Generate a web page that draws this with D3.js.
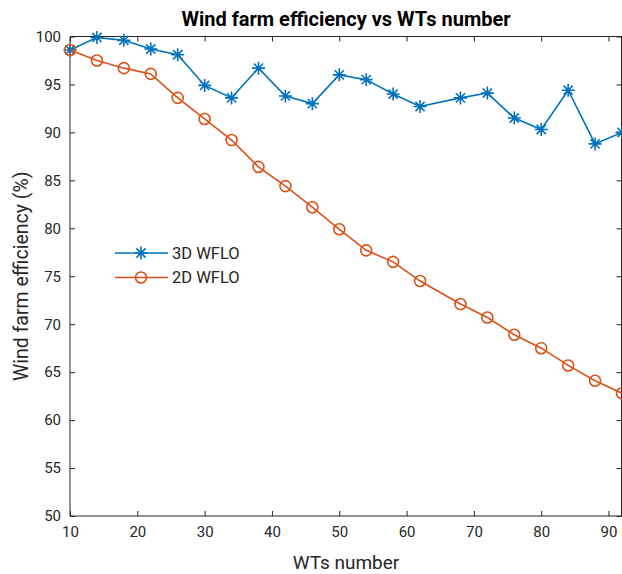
<!DOCTYPE html>
<html>
<head>
<meta charset="utf-8">
<script src="https://cdn.jsdelivr.net/npm/d3@7"></script>
<style>
  html, body { margin: 0; padding: 0; background: #fff; }
  svg { display: block; }
  text { font-family: "Roboto", "Liberation Sans", sans-serif; fill: #262626; }
</style>
</head>
<body>
<svg id="chart" width="622" height="574"></svg>
<script>
const wtsNumber = [10, 14, 18, 22, 26, 30, 34, 38, 42, 46, 50, 54, 58, 62, 68, 72, 76, 80, 84, 88, 92];
const eff3D = [98.6, 99.9, 99.6, 98.7, 98.1, 94.9, 93.6, 96.7, 93.8, 93.0, 96.0, 95.5, 94.0, 92.7, 93.6, 94.1, 91.5, 90.3, 94.4, 88.8, 90.0];
const eff2D = [98.6, 97.5, 96.7, 96.1, 93.6, 91.4, 89.2, 86.4, 84.4, 82.2, 79.9, 77.7, 76.5, 74.5, 72.1, 70.7, 68.9, 67.5, 65.7, 64.1, 62.8];
const xTicks = [10, 20, 30, 40, 50, 60, 70, 80, 90];
const yTicks = [50, 55, 60, 65, 70, 75, 80, 85, 90, 95, 100];
const seriesNames = ["3D WFLO", "2D WFLO"];
const seriesColors = ["#0072BD", "#D95319"];
const titleText = "Wind farm efficiency vs WTs number";
const xLabel = "WTs number";
const yLabel = "Wind farm efficiency (%)";

(function () {
const svg = d3.select("#chart");
const mL = 70, mR = 622, mT = 36.5, mB = 516;

const x = d3.scaleLinear().domain([10, 92]).range([mL, mR]);
const y = d3.scaleLinear().domain([50, 100]).range([mB, mT]);

const axisColor = "#262626";
const tickLen = 5;

// box lines
const g = svg.append("g");
g.append("line").attr("x1", mL).attr("x2", mR).attr("y1", mB).attr("y2", mB).attr("stroke", axisColor);
g.append("line").attr("x1", mL).attr("x2", mR).attr("y1", mT).attr("y2", mT).attr("stroke", axisColor);
g.append("line").attr("x1", mL).attr("x2", mL).attr("y1", mT).attr("y2", mB).attr("stroke", axisColor);
g.append("line").attr("x1", mR - 0.5).attr("x2", mR - 0.5).attr("y1", mT).attr("y2", mB).attr("stroke", axisColor);

// x axis (bottom), inward ticks
const xAxis = d3.axisBottom(x).tickValues(xTicks).tickSizeInner(-tickLen).tickSizeOuter(0).tickPadding(10);
const xg = svg.append("g").attr("transform", `translate(0,${mB})`).call(xAxis);
xg.select(".domain").remove();
xg.selectAll("line").attr("stroke", axisColor);
xg.selectAll("text").attr("font-size", 15).attr("fill", axisColor).attr("font-family", null);

// x top ticks
const xTop = d3.axisTop(x).tickValues(xTicks).tickSizeInner(-tickLen).tickSizeOuter(0).tickFormat("");
const xtg = svg.append("g").attr("transform", `translate(0,${mT})`).call(xTop);
xtg.select(".domain").remove();
xtg.selectAll("line").attr("stroke", axisColor);

// y axis left
const yAxis = d3.axisLeft(y).tickValues(yTicks).tickSizeInner(-tickLen).tickSizeOuter(0).tickPadding(9);
const yg = svg.append("g").attr("transform", `translate(${mL},0)`).call(yAxis);
yg.select(".domain").remove();
yg.selectAll("line").attr("stroke", axisColor);
yg.selectAll("text").attr("font-size", 15).attr("fill", axisColor).attr("font-family", null);

// y axis right ticks
const yRight = d3.axisRight(y).tickValues(yTicks).tickSizeInner(-tickLen).tickSizeOuter(0).tickFormat("");
const yrg = svg.append("g").attr("transform", `translate(${mR - 0.5},0)`).call(yRight);
yrg.select(".domain").remove();
yrg.selectAll("line").attr("stroke", axisColor);

// title and labels
svg.append("text").attr("x", (mL + mR) / 2).attr("y", 26).attr("text-anchor", "middle")
  .attr("font-size", 20).attr("font-weight", "bold").style("fill", "#000").text(titleText);
svg.append("text").attr("x", (mL + mR) / 2).attr("y", 569).attr("text-anchor", "middle")
  .attr("font-size", 19).text(xLabel);
svg.append("text").attr("transform", `translate(28,${(mT + mB) / 2}) rotate(-90)`).attr("text-anchor", "middle")
  .attr("font-size", 19.5).text(yLabel);

// markers
function asterisk(sel, cx, cy, color, r) {
  const d = r * Math.SQRT1_2;
  const p = `M${cx - r},${cy}L${cx + r},${cy}M${cx},${cy - r}L${cx},${cy + r}` +
            `M${cx - d},${cy - d}L${cx + d},${cy + d}M${cx - d},${cy + d}L${cx + d},${cy - d}`;
  sel.append("path").attr("d", p).attr("stroke", color).attr("stroke-width", 1.6).attr("fill", "none");
}
function circle(sel, cx, cy, color, r) {
  sel.append("circle").attr("cx", cx).attr("cy", cy).attr("r", r).attr("stroke", color)
    .attr("stroke-width", 1.6).attr("fill", "none");
}

const line = d3.line().x(d => x(d[0])).y(d => y(d[1]));
const data3 = wtsNumber.map((w, i) => [w, eff3D[i]]);
const data2 = wtsNumber.map((w, i) => [w, eff2D[i]]);

const plot = svg.append("g");
plot.append("path").datum(data3).attr("d", line).attr("fill", "none").attr("stroke", seriesColors[0]).attr("stroke-width", 1.6);
data3.forEach(d => asterisk(plot, x(d[0]), y(d[1]), seriesColors[0], 6.5));
plot.append("path").datum(data2).attr("d", line).attr("fill", "none").attr("stroke", seriesColors[1]).attr("stroke-width", 1.6);
data2.forEach(d => circle(plot, x(d[0]), y(d[1]), seriesColors[1], 5.5));

// legend
const leg = svg.append("g");
const legY = [253, 277.5];
seriesNames.forEach((name, i) => {
  leg.append("line").attr("x1", 115).attr("x2", 168).attr("y1", legY[i]).attr("y2", legY[i])
    .attr("stroke", seriesColors[i]).attr("stroke-width", 1.6);
  if (i === 0) asterisk(leg, 141, legY[i], seriesColors[i], 6.5);
  else circle(leg, 141, legY[i], seriesColors[i], 5.5);
  leg.append("text").attr("x", 172).attr("y", legY[i]).attr("dy", "0.35em").attr("font-size", 16.5).text(name);
});
})();
</script>
</body>
</html>
